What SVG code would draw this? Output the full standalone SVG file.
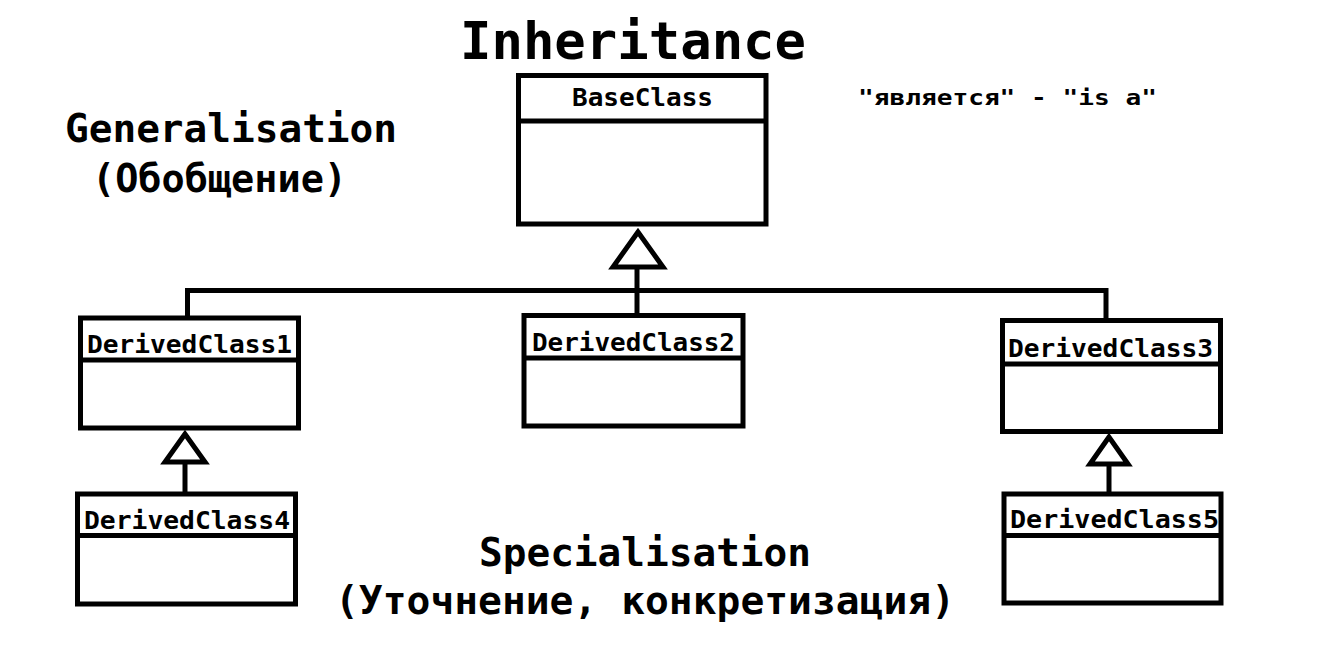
<svg xmlns="http://www.w3.org/2000/svg" width="1318" height="669" viewBox="0 0 1318 669">
<style>
.box{fill:#fff;stroke:#000;stroke-width:5}
.ln{fill:none;stroke:#000;stroke-width:5}
.tri{fill:#fff;stroke:#000;stroke-width:5;stroke-linejoin:miter}
text{font-family:"DejaVu Sans Mono","Liberation Mono",monospace;font-weight:bold;fill:#000}
.cls{font-size:24.5px}
.big{font-size:38.5px}
</style>
<rect width="1318" height="669" fill="#fff"/>
<text x="460" y="59" style="font-size:51px" textLength="346" lengthAdjust="spacingAndGlyphs">Inheritance</text>
<text x="858" y="105" style="font-size:22px" textLength="299" lengthAdjust="spacingAndGlyphs">"является" - "is a"</text>
<text x="65" y="142" class="big" textLength="332" lengthAdjust="spacingAndGlyphs">Generalisation</text>
<text x="92" y="192" class="big" textLength="255" lengthAdjust="spacingAndGlyphs">(Обобщение)</text>
<text x="479" y="566" class="big" textLength="332" lengthAdjust="spacingAndGlyphs">Specialisation</text>
<text x="335" y="614" class="big" textLength="620" lengthAdjust="spacingAndGlyphs">(Уточнение, конкретизация)</text>
<g id="connectors">
<path class="ln" d="M187.5 316 V290.5 H1106 V318"/>
<path class="ln" d="M637 314 V267"/>
<polygon class="tri" points="638,232 613,267 663,267"/>
<path class="ln" d="M185 493 V462"/>
<polygon class="tri" points="185,434 165,462 205,462"/>
<path class="ln" d="M1109 493 V464"/>
<polygon class="tri" points="1109,437 1090,464 1128,464"/>
</g>
<g id="BaseClass">
<rect class="box" x="518.5" y="75.5" width="247.5" height="148.5"/>
<path class="ln" d="M518.5 121 H766"/>
<text x="572" y="106" class="cls" textLength="141" lengthAdjust="spacingAndGlyphs">BaseClass</text>
</g>
<g id="DerivedClass1">
<rect class="box" x="80.5" y="318" width="218" height="110"/>
<path class="ln" d="M80.5 360 H298.5"/>
<text x="87" y="353" class="cls" textLength="205" lengthAdjust="spacingAndGlyphs">DerivedClass1</text>
</g>
<g id="DerivedClass2">
<rect class="box" x="524" y="315.5" width="219" height="110.5"/>
<path class="ln" d="M524 358 H743"/>
<text x="532" y="351" class="cls" textLength="203" lengthAdjust="spacingAndGlyphs">DerivedClass2</text>
</g>
<g id="DerivedClass3">
<rect class="box" x="1002.5" y="320.5" width="218" height="111"/>
<path class="ln" d="M1002.5 364 H1220.5"/>
<text x="1008" y="357" class="cls" textLength="205" lengthAdjust="spacingAndGlyphs">DerivedClass3</text>
</g>
<g id="DerivedClass4">
<rect class="box" x="77.5" y="494" width="218" height="110"/>
<path class="ln" d="M77.5 535.5 H295.5"/>
<text x="84" y="529" class="cls" textLength="206" lengthAdjust="spacingAndGlyphs">DerivedClass4</text>
</g>
<g id="DerivedClass5">
<rect class="box" x="1004" y="494" width="217" height="109"/>
<path class="ln" d="M1004 535.5 H1221"/>
<text x="1010" y="528" class="cls" textLength="209" lengthAdjust="spacingAndGlyphs">DerivedClass5</text>
</g>
</svg>
